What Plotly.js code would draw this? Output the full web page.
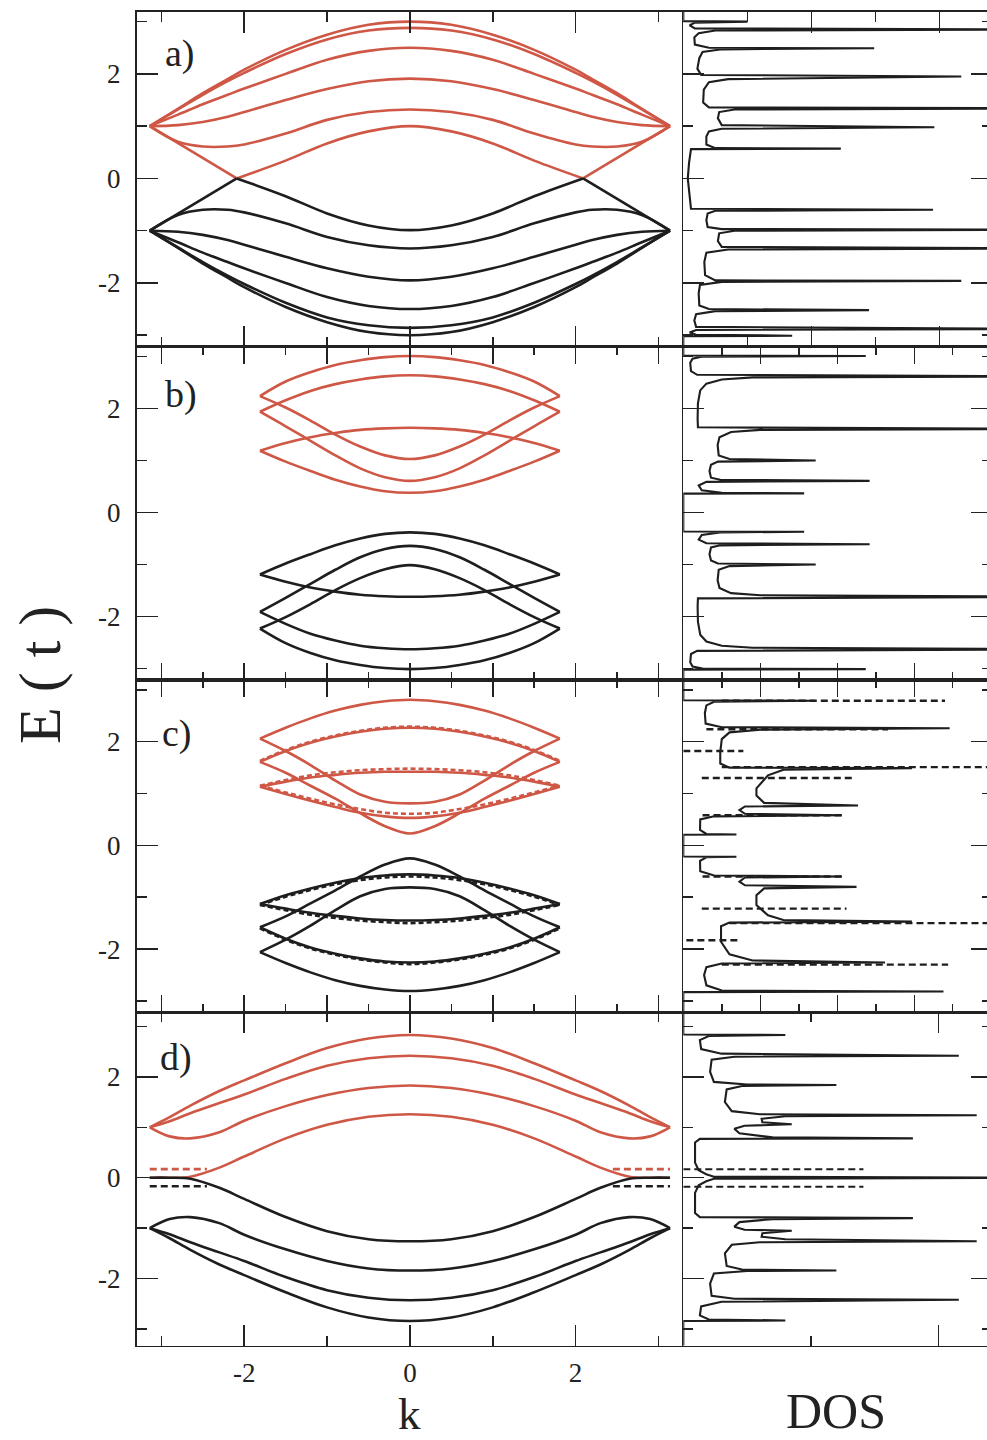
<!DOCTYPE html>
<html>
<head>
<meta charset="utf-8">
<script src="https://cdn.plot.ly/plotly-3.0.1.min.js"></script>
<style>
html, body { margin: 0; padding: 0; overflow: hidden; background: #fff; }
#chart { width: 995px; height: 1440px; }
</style>
</head>
<body>
<div id="chart"></div>
<script>
// ---------------- DATA ----------------
const TICK_VALS = [-2, 0, 2];
const TICK_TEXT = ['-2', '0', '2'];
const PANEL_LABELS = ['a)', 'b)', 'c)', 'd)'];
const Y_TITLE = 'E ( t )';
const X_TITLE_BANDS = 'k';
const X_TITLE_DOS = 'DOS';

// panel a : bands E(k)
const K_A = [-3.14, -2.8, -2.5, -2.2, -2.0, -1.5, -1.0, -0.5, 0, 0.5, 1.0, 1.5, 2.0, 2.2, 2.5, 2.8, 3.14];
const A_R1 = [1.0, 1.33, 1.63, 1.9, 2.08, 2.46, 2.75, 2.94, 3.0, 2.94, 2.75, 2.46, 2.08, 1.9, 1.63, 1.33, 1.0];
const A_R2 = [1.0, 1.32, 1.6, 1.86, 2.02, 2.38, 2.66, 2.83, 2.88, 2.83, 2.66, 2.38, 2.02, 1.86, 1.6, 1.32, 1.0];
const A_R3 = [1.0, 1.22, 1.42, 1.6, 1.72, 2.0, 2.27, 2.44, 2.5, 2.44, 2.27, 2.0, 1.72, 1.6, 1.42, 1.22, 1.0];
const A_R4 = [1.0, 1.02, 1.08, 1.18, 1.27, 1.5, 1.71, 1.86, 1.91, 1.86, 1.71, 1.5, 1.27, 1.18, 1.08, 1.02, 1.0];
const A_R5 = [1.0, 0.7, 0.61, 0.61, 0.65, 0.86, 1.12, 1.27, 1.32, 1.27, 1.12, 0.86, 0.65, 0.61, 0.61, 0.7, 1.0];
const A_B1 = [-1.0, -1.33, -1.63, -1.9, -2.08, -2.46, -2.75, -2.94, -3.0, -2.94, -2.75, -2.46, -2.08, -1.9, -1.63, -1.33, -1.0];
const A_B2 = [-1.0, -1.32, -1.6, -1.86, -2.02, -2.38, -2.66, -2.81, -2.86, -2.81, -2.66, -2.38, -2.02, -1.86, -1.6, -1.32, -1.0];
const A_B3 = [-1.0, -1.22, -1.42, -1.6, -1.72, -2.0, -2.27, -2.44, -2.5, -2.44, -2.27, -2.0, -1.72, -1.6, -1.42, -1.22, -1.0];
const A_B4 = [-1.0, -1.02, -1.08, -1.18, -1.27, -1.5, -1.72, -1.88, -1.95, -1.88, -1.72, -1.5, -1.27, -1.18, -1.08, -1.02, -1.0];
const A_B5 = [-1.0, -0.7, -0.6, -0.6, -0.65, -0.86, -1.12, -1.28, -1.34, -1.28, -1.12, -0.86, -0.65, -0.6, -0.6, -0.7, -1.0];
const K_A6 = [-3.14, -2.09, -1.5, -1.0, -0.5, 0, 0.5, 1.0, 1.5, 2.09, 3.14];
const A_R6 = [1.0, 0.0, 0.34, 0.67, 0.9, 1.0, 0.9, 0.67, 0.34, 0.0, 1.0];
const A_B6 = [-1.0, 0.0, -0.34, -0.67, -0.9, -0.99, -0.9, -0.67, -0.34, 0.0, -1.0];

// panels b and c : bands E(k)
const K_BC = [-1.81, -1.5, -1.2, -0.9, -0.6, -0.3, 0, 0.3, 0.6, 0.9, 1.2, 1.5, 1.81];
const B_R1 = [2.24, 2.52, 2.7, 2.84, 2.93, 2.99, 3.01, 2.99, 2.93, 2.84, 2.7, 2.52, 2.24];
const B_R2 = [1.94, 2.16, 2.34, 2.47, 2.56, 2.62, 2.64, 2.62, 2.56, 2.47, 2.34, 2.16, 1.94];
const B_R3 = [1.19, 1.34, 1.45, 1.53, 1.59, 1.62, 1.63, 1.62, 1.59, 1.53, 1.45, 1.34, 1.19];
const B_R4 = [2.24, 2.02, 1.77, 1.5, 1.27, 1.1, 1.03, 1.1, 1.27, 1.5, 1.77, 2.02, 2.24];
const B_R5 = [1.94, 1.66, 1.38, 1.1, 0.85, 0.68, 0.61, 0.68, 0.85, 1.1, 1.38, 1.66, 1.94];
const B_R6 = [1.19, 0.98, 0.8, 0.63, 0.5, 0.41, 0.38, 0.41, 0.5, 0.63, 0.8, 0.98, 1.19];
const B_B1 = [-2.23, -2.51, -2.7, -2.84, -2.93, -2.99, -3.01, -2.99, -2.93, -2.84, -2.7, -2.51, -2.23];
const B_B2 = [-1.91, -2.14, -2.33, -2.46, -2.56, -2.61, -2.63, -2.61, -2.56, -2.46, -2.33, -2.14, -1.91];
const B_B3 = [-1.19, -1.33, -1.44, -1.52, -1.58, -1.61, -1.62, -1.61, -1.58, -1.52, -1.44, -1.33, -1.19];
const B_B4 = [-2.23, -2.01, -1.76, -1.49, -1.26, -1.09, -1.01, -1.09, -1.26, -1.49, -1.76, -2.01, -2.23];
const B_B5 = [-1.91, -1.64, -1.37, -1.1, -0.86, -0.7, -0.64, -0.7, -0.86, -1.1, -1.37, -1.64, -1.91];
const B_B6 = [-1.19, -0.98, -0.8, -0.63, -0.5, -0.41, -0.38, -0.41, -0.5, -0.63, -0.8, -0.98, -1.19];

const C_R1 = [2.06, 2.27, 2.45, 2.6, 2.71, 2.78, 2.81, 2.78, 2.71, 2.6, 2.45, 2.27, 2.06];
const C_R2 = [1.61, 1.82, 1.98, 2.1, 2.19, 2.25, 2.27, 2.25, 2.19, 2.1, 1.98, 1.82, 1.61];
const C_R3 = [1.13, 1.23, 1.31, 1.36, 1.4, 1.42, 1.42, 1.42, 1.4, 1.36, 1.31, 1.23, 1.13];
const C_R4 = [2.06, 1.82, 1.55, 1.25, 0.98, 0.84, 0.81, 0.84, 0.98, 1.25, 1.55, 1.82, 2.06];
const C_R5 = [1.61, 1.4, 1.15, 0.9, 0.62, 0.37, 0.23, 0.37, 0.62, 0.9, 1.15, 1.4, 1.61];
const C_R6 = [1.13, 0.99, 0.86, 0.74, 0.63, 0.56, 0.53, 0.56, 0.63, 0.74, 0.86, 0.99, 1.13];
const C_RD2 = [1.63, 1.84, 2.0, 2.12, 2.21, 2.27, 2.29, 2.27, 2.21, 2.12, 2.0, 1.84, 1.63];
const C_RD3 = [1.15, 1.26, 1.35, 1.41, 1.45, 1.47, 1.48, 1.47, 1.45, 1.41, 1.35, 1.26, 1.15];
const C_RD6 = [1.15, 1.02, 0.9, 0.79, 0.7, 0.63, 0.61, 0.63, 0.7, 0.79, 0.9, 1.02, 1.15];
const C_B1 = [-2.06, -2.27, -2.45, -2.6, -2.71, -2.78, -2.81, -2.78, -2.71, -2.6, -2.45, -2.27, -2.06];
const C_B2 = [-1.58, -1.8, -1.97, -2.09, -2.18, -2.24, -2.26, -2.24, -2.18, -2.09, -1.97, -1.8, -1.58];
const C_B3 = [-1.13, -1.22, -1.3, -1.36, -1.41, -1.44, -1.45, -1.44, -1.41, -1.36, -1.3, -1.22, -1.13];
const C_B4 = [-2.06, -1.82, -1.55, -1.25, -0.98, -0.84, -0.81, -0.84, -0.98, -1.25, -1.55, -1.82, -2.06];
const C_B5 = [-1.58, -1.37, -1.12, -0.87, -0.6, -0.37, -0.25, -0.37, -0.6, -0.87, -1.12, -1.37, -1.58];
const C_B6 = [-1.13, -0.96, -0.83, -0.72, -0.63, -0.58, -0.56, -0.58, -0.63, -0.72, -0.83, -0.96, -1.13];
const C_BD2 = [-1.6, -1.82, -1.99, -2.11, -2.2, -2.26, -2.29, -2.26, -2.2, -2.11, -1.99, -1.82, -1.6];
const C_BD3 = [-1.15, -1.25, -1.34, -1.4, -1.45, -1.48, -1.5, -1.48, -1.45, -1.4, -1.34, -1.25, -1.15];
const C_BD6 = [-1.15, -0.99, -0.86, -0.75, -0.67, -0.62, -0.6, -0.62, -0.67, -0.75, -0.86, -0.99, -1.15];

// panel d : bands E(k)
const K_D = [-3.14, -2.9, -2.65, -2.3, -2.0, -1.5, -1.0, -0.5, 0, 0.5, 1.0, 1.5, 2.0, 2.3, 2.65, 2.9, 3.14];
const D_R1 = [1.0, 1.2, 1.43, 1.72, 1.93, 2.27, 2.57, 2.76, 2.83, 2.76, 2.57, 2.27, 1.93, 1.72, 1.43, 1.2, 1.0];
const D_R2 = [1.0, 1.12, 1.28, 1.48, 1.65, 1.96, 2.22, 2.37, 2.42, 2.37, 2.22, 1.96, 1.65, 1.48, 1.28, 1.12, 1.0];
const D_R3 = [1.0, 0.82, 0.78, 0.9, 1.13, 1.42, 1.64, 1.78, 1.83, 1.78, 1.64, 1.42, 1.13, 0.9, 0.78, 0.82, 1.0];
const D_R4 = [0.0, 0.0, 0.02, 0.2, 0.42, 0.78, 1.05, 1.21, 1.26, 1.21, 1.05, 0.78, 0.42, 0.2, 0.02, 0.0, 0.0];
const D_B1 = [-1.0, -1.2, -1.43, -1.72, -1.93, -2.27, -2.57, -2.77, -2.84, -2.77, -2.57, -2.27, -1.93, -1.72, -1.43, -1.2, -1.0];
const D_B2 = [-1.0, -1.12, -1.28, -1.48, -1.65, -1.97, -2.23, -2.38, -2.43, -2.38, -2.23, -1.97, -1.65, -1.48, -1.28, -1.12, -1.0];
const D_B3 = [-1.0, -0.82, -0.78, -0.9, -1.13, -1.42, -1.65, -1.8, -1.84, -1.8, -1.65, -1.42, -1.13, -0.9, -0.78, -0.82, -1.0];
const D_B4 = [0.0, 0.0, -0.02, -0.2, -0.42, -0.78, -1.06, -1.22, -1.26, -1.22, -1.06, -0.78, -0.42, -0.2, -0.02, 0.0, 0.0];
const K_DD = [-3.14, -2.45, null, 2.45, 3.14];
const D_RD = [0.17, 0.17, null, 0.17, 0.17];
const D_BD = [-0.17, -0.17, null, -0.17, -0.17];

// DOS curves (energy, density) from top to bottom
const DOS_A_E = [3.19, 3.01, 3.0, 2.98, 2.93, 2.87, 2.85, 2.83, 2.78, 2.7, 2.56, 2.5, 2.49, 2.47, 2.42, 2.3, 2.1, 1.98, 1.95,
  1.9, 1.84, 1.7, 1.45, 1.36, 1.34, 1.32, 1.27, 1.15, 1.02, 0.98, 0.95, 0.9, 0.8, 0.65, 0.58, 0.57,
  0.56, 0.3, 0.0, -0.3, -0.58, -0.6, -0.62, -0.67, -0.8, -0.93, -0.97, -0.98, -1.0, -1.05, -1.2, -1.31, -1.34,
  -1.36, -1.42, -1.6, -1.85, -1.95, -1.96, -1.98, -2.04, -2.2, -2.43, -2.5, -2.52, -2.54, -2.6, -2.72, -2.84, -2.88,
  -2.9, -2.95, -2.99, -3.01, -3.02, -3.22];
const DOS_A_N = [0, 0, 0.5, 0.09, 0.05, 0.09, 3, 0.25, 0.12, 0.086, 0.09, 0.2, 1.49, 0.3, 0.15, 0.125, 0.11, 0.14, 2.17,
  0.35, 0.2, 0.16, 0.155, 0.2, 3, 0.4, 0.28, 0.27, 0.3, 1.96, 0.3, 0.2, 0.18, 0.18, 0.25, 1.23,
  0.06, 0.045, 0.035, 0.045, 0.06, 1.95, 0.25, 0.19, 0.18, 0.19, 0.3, 3, 0.4, 0.28, 0.27, 0.3, 3,
  0.35, 0.18, 0.164, 0.17, 0.25, 2.17, 0.3, 0.13, 0.12, 0.125, 0.2, 1.45, 0.25, 0.1, 0.086, 0.1, 3,
  0.1, 0.05, 0.1, 0.85, 0, 0];

const DOS_B_E = [3.2, 3.02, 3.01, 3.0, 2.96, 2.88, 2.72, 2.65, 2.62, 2.6, 2.56, 2.48, 2.35, 2.1, 1.8, 1.64, 1.61,
  1.59, 1.55, 1.45, 1.3, 1.1, 1.03, 1.0, 0.98, 0.92, 0.8, 0.67, 0.63, 0.61,
  0.59, 0.52, 0.43, 0.38, 0.37, 0.365, -0.365, -0.37, -0.38, -0.43, -0.52, -0.59, -0.61,
  -0.63, -0.67, -0.8, -0.92, -0.98, -1.0, -1.03, -1.1, -1.3, -1.45, -1.55, -1.59, -1.62,
  -1.65, -1.8, -2.1, -2.35, -2.48, -2.56, -2.6, -2.63, -2.66, -2.72, -2.88, -2.96, -3.0, -3.01, -3.02, -3.22];
const DOS_B_N = [0, 0, 2.37, 0.25, 0.12, 0.09, 0.1, 0.18, 5, 0.9, 0.5, 0.3, 0.22, 0.19, 0.186, 0.19, 5,
  1.0, 0.62, 0.47, 0.446, 0.46, 0.6, 1.72, 0.45, 0.36, 0.34, 0.36, 0.48, 2.42,
  0.3, 0.2, 0.24, 0.5, 1.57, 0, 0, 1.57, 0.5, 0.24, 0.2, 0.3, 2.42,
  0.48, 0.36, 0.34, 0.36, 0.45, 1.72, 0.6, 0.46, 0.446, 0.47, 0.62, 1.0, 5,
  0.19, 0.186, 0.19, 0.22, 0.3, 0.5, 0.9, 5, 0.18, 0.1, 0.09, 0.12, 0.25, 2.37, 0, 0];

const DOS_C_E = [3.19, 2.8, 2.79, 2.77, 2.7, 2.55, 2.35, 2.28, 2.26, 2.23, 2.18, 2.05, 1.8, 1.58, 1.5, 1.49,
  1.46, 1.35, 1.1, 0.96, 0.82, 0.77, 0.75, 0.68, 0.61, 0.58,
  0.56, 0.5, 0.3, 0.22, 0.21, 0.205, -0.215, -0.22, -0.23, -0.3, -0.5, -0.58, -0.6,
  -0.62, -0.7, -0.77, -0.8, -0.83, -0.96, -1.15, -1.35, -1.44, -1.47,
  -1.49, -1.56, -1.86, -2.1, -2.22, -2.26, -2.28, -2.35, -2.5, -2.7, -2.8, -2.82, -2.83, -3.22];
const DOS_C_N = [0, 0, 1.71, 0.4, 0.3, 0.28, 0.29, 0.5, 3.46, 1.0, 0.6, 0.5, 0.48, 0.48, 0.6, 2.97,
  1.3, 1.1, 0.95, 0.95, 1.05, 2.27, 0.8, 0.73, 0.8, 2.06,
  0.4, 0.22, 0.217, 0.3, 0.69, 0, 0, 0.69, 0.3, 0.217, 0.22, 0.4, 2.06,
  0.8, 0.73, 0.8, 2.25, 1.05, 0.95, 0.95, 1.1, 1.3, 2.97,
  0.6, 0.49, 0.49, 0.6, 0.9, 2.62, 0.5, 0.3, 0.27, 0.3, 0.5, 3.38, 0, 0];
const DOSD_C_E = [2.79, 2.79, null, 2.24, 2.24, null, 1.82, 1.82, null, 1.51, 1.51, null, 1.3, 1.3, null,
  0.58, 0.58, null, -0.6, -0.6, null, -1.22, -1.22, null, -1.5, -1.5, null, -1.83, -1.83, null, -2.3, -2.3];
const DOSD_C_N = [0.5, 3.4, null, 0.3, 2.66, null, 0, 0.78, null, 0.5, 5, null, 0.24, 2.2, null,
  0.25, 2.06, null, 0.25, 2.06, null, 0.24, 2.12, null, 0.6, 5, null, 0.04, 0.75, null, 0.5, 3.44];

const DOS_D_E = [3.28, 2.84, 2.83, 2.81, 2.73, 2.55, 2.46, 2.42, 2.4, 2.34, 2.1, 1.9, 1.85, 1.84,
  1.82, 1.75, 1.5, 1.32, 1.26, 1.24, 1.22, 1.17, 1.1, 1.06, 1.03, 0.97, 0.88, 0.8, 0.78,
  0.77, 0.7, 0.3, 0.15, 0.07, 0.02, 0.0, -0.02, -0.07, -0.15, -0.3, -0.7, -0.78, -0.8,
  -0.82, -0.88, -0.97, -1.03, -1.05, -1.1, -1.17, -1.22, -1.26, -1.28, -1.33, -1.5, -1.75, -1.82, -1.84,
  -1.85, -1.9, -2.1, -2.34, -2.4, -2.42, -2.46, -2.55, -2.73, -2.81, -2.83, -2.84, -3.33];
const DOS_D_N = [0, 0, 0.4, 0.1, 0.065, 0.07, 0.15, 1.08, 0.2, 0.111, 0.105, 0.12, 0.25, 0.6,
  0.23, 0.17, 0.163, 0.19, 0.3, 1.15, 0.4, 0.307, 0.31, 0.425, 0.24, 0.2, 0.22, 0.35, 0.9,
  0.065, 0.046, 0.046, 0.06, 0.09, 0.12, 1.5, 0.12, 0.09, 0.06, 0.046, 0.046, 0.065, 0.9,
  0.35, 0.22, 0.2, 0.24, 0.425, 0.31, 0.307, 0.4, 1.15, 0.3, 0.19, 0.163, 0.17, 0.23, 0.6,
  0.25, 0.12, 0.105, 0.111, 0.2, 1.08, 0.15, 0.07, 0.065, 0.1, 0.4, 0, 0];
const DOSD_D_E = [0.17, 0.17, null, -0.18, -0.18];
const DOSD_D_N = [0, 0.706, null, 0, 0.706];

// ---------------- STYLE / LAYOUT ----------------
const W = 995, H = 1440;
const RED = '#cf5746', BLK = '#1e1e1e';
const SERIF = 'Liberation Serif, Times New Roman, serif';
const px = v => v / W, py = v => 1 - v / H;
const XL = [px(136.5), px(683.3)], XR = [px(683.3), px(992)];
const ROWS = [[346.7, 11.7], [680, 346.7], [1012.3, 680], [1345.7, 1012.3]].map(r => [py(r[0]), py(r[1])]);
const YR = [[-3.22, 3.19], [-3.22, 3.19], [-3.22, 3.19], [-3.33, 3.28]];
const DOSR = [[0, 2.41], [0, 4.01], [0, 4.01], [0, 1.21]];

const traces = [];
function band(x, y, xa, ya, color, dash, shape) {
  traces.push({type: 'scatter', mode: 'lines', x: x, y: y, xaxis: xa, yaxis: ya, hoverinfo: 'skip',
    line: {color: color, width: 2.6, dash: dash || 'solid', shape: shape || 'spline', smoothing: 1}});
}
function dos(x, y, xa, ya, dash, w) {
  traces.push({type: 'scatter', mode: 'lines', x: x, y: y, xaxis: xa, yaxis: ya, hoverinfo: 'skip',
    line: {color: BLK, width: w || 2.1, dash: dash || 'solid', shape: 'linear'}});
}
// panel a
[A_R1, A_R2, A_R3, A_R4, A_R5].forEach(a => band(K_A, a, 'x', 'y', RED));
band(K_A6.slice(0, 2), A_R6.slice(0, 2), 'x', 'y', RED, 'solid', 'linear');
band(K_A6.slice(1, 10), A_R6.slice(1, 10), 'x', 'y', RED);
band(K_A6.slice(9), A_R6.slice(9), 'x', 'y', RED, 'solid', 'linear');
[A_B1, A_B2, A_B3, A_B4, A_B5].forEach(a => band(K_A, a, 'x', 'y', BLK));
band(K_A6.slice(0, 2), A_B6.slice(0, 2), 'x', 'y', BLK, 'solid', 'linear');
band(K_A6.slice(1, 10), A_B6.slice(1, 10), 'x', 'y', BLK);
band(K_A6.slice(9), A_B6.slice(9), 'x', 'y', BLK, 'solid', 'linear');
dos(DOS_A_N, DOS_A_E, 'x2', 'y2');
// panel b
[B_R1, B_R2, B_R3, B_R4, B_R5, B_R6].forEach(a => band(K_BC, a, 'x3', 'y3', RED));
[B_B1, B_B2, B_B3, B_B4, B_B5, B_B6].forEach(a => band(K_BC, a, 'x3', 'y3', BLK));
dos(DOS_B_N, DOS_B_E, 'x4', 'y4');
// panel c
[C_R1, C_R2, C_R3, C_R4, C_R5, C_R6].forEach(a => band(K_BC, a, 'x5', 'y5', RED));
[C_RD2, C_RD3, C_RD6].forEach(a => band(K_BC, a, 'x5', 'y5', RED, '5px,3px'));
[C_B1, C_B2, C_B3, C_B4, C_B5, C_B6].forEach(a => band(K_BC, a, 'x5', 'y5', BLK));
[C_BD2, C_BD3, C_BD6].forEach(a => band(K_BC, a, 'x5', 'y5', BLK, '5px,3px'));
dos(DOS_C_N, DOS_C_E, 'x6', 'y6');
dos(DOSD_C_N, DOSD_C_E, 'x6', 'y6', '7px,4px', 2.4);
// panel d
[D_R1, D_R2, D_R3, D_R4].forEach(a => band(K_D, a, 'x7', 'y7', RED));
[D_B1, D_B2, D_B3, D_B4].forEach(a => band(K_D, a, 'x7', 'y7', BLK));
band(K_DD, D_RD, 'x7', 'y7', RED, '7px,4px', 'linear');
band(K_DD, D_BD, 'x7', 'y7', BLK, '7px,4px', 'linear');
dos(DOS_D_N, DOS_D_E, 'x8', 'y8');
dos(DOSD_D_N, DOSD_D_E, 'x8', 'y8', '7px,4px', 2);

const tickfont = {family: SERIF, size: 27, color: '#222'};
function base(extra) {
  return Object.assign({
    showline: true, linecolor: '#222', linewidth: 1.6, ticks: 'inside', ticklen: 21, tickwidth: 1.5,
    tickcolor: '#222', showgrid: false, zeroline: false, fixedrange: true, tickfont: tickfont
  }, extra);
}
function minor(vals, len) {
  return {ticks: 'inside', ticklen: len || 10, tickwidth: 1.5, tickcolor: '#222', tickmode: 'array', tickvals: vals, showgrid: false};
}
const layout = {
  width: W, height: H, margin: {l: 0, r: 0, t: 0, b: 0, autoexpand: false},
  paper_bgcolor: '#fff', plot_bgcolor: '#fff', showlegend: false,
  font: {family: SERIF, color: '#222'},
  annotations: []
};
const leftMajor = [[-2, 0, 2], [-3, -2, -1, 0, 1, 2, 3], [-3, -2, -1, 0, 1, 2, 3], [-2, 0, 2]];
const leftMinor = [[-3, -1, 1, 3], [-2.5, -1.5, -0.5, 0.5, 1.5, 2.5], [-2.5, -1.5, -0.5, 0.5, 1.5, 2.5], [-3, -1, 1, 3]];
for (let r = 0; r < 4; r++) {
  const iL = 2 * r + 1, iR = 2 * r + 2;
  const nL = iL === 1 ? '' : String(iL), nR = String(iR);
  const isLast = r === 3;
  layout['xaxis' + nL] = base({
    domain: XL, anchor: 'y' + nL, range: [-3.3, 3.3], mirror: 'ticks',
    tickmode: 'array', tickvals: isLast ? TICK_VALS : leftMajor[r], ticktext: isLast ? TICK_TEXT : undefined,
    ticklen: (r === 1 || r === 2) ? 17 : 21,
    showticklabels: isLast, ticklabelstandoff: 2, minor: minor(leftMinor[r], (r === 1 || r === 2) ? 8 : 10)
  });
  layout['yaxis' + nL] = base({
    domain: ROWS[r], anchor: 'x' + nL, range: YR[r], mirror: false,
    tickmode: 'array', tickvals: TICK_VALS, ticktext: TICK_TEXT, showticklabels: true,
    ticklabelstandoff: 9, minor: minor([-3, -1, 1, 3])
  });
  layout['xaxis' + nR] = base({
    domain: XR, anchor: 'y' + nR, range: DOSR[r], mirror: 'ticks',
    tickmode: 'linear', tick0: 0, dtick: 1, showticklabels: false,
    ticklen: (r === 1 || r === 2) ? 17 : 21,
    minor: {ticks: 'inside', ticklen: (r === 1 || r === 2) ? 8 : 10, tickwidth: 1.5, tickcolor: '#222', tick0: 0, dtick: 0.5, showgrid: false}
  });
  layout['yaxis' + nR] = base({
    domain: ROWS[r], anchor: 'x' + nR, range: YR[r], mirror: 'ticks',
    tickmode: 'array', tickvals: TICK_VALS, showticklabels: false, minor: minor([-3, -1, 1, 3])
  });
}
const labelPos = [[163, 54], [163, 394], [160, 733], [158, 1057]];
PANEL_LABELS.forEach((t, i) => layout.annotations.push({
  text: t, xref: 'paper', yref: 'paper', x: px(labelPos[i][0]), y: py(labelPos[i][1]),
  xanchor: 'left', yanchor: 'middle', showarrow: false, font: {family: SERIF, size: 38, color: '#222'}
}));
layout.annotations.push({text: Y_TITLE, xref: 'paper', yref: 'paper', x: px(40), y: py(675), textangle: -90,
  xanchor: 'center', yanchor: 'middle', showarrow: false, font: {family: SERIF, size: 60, color: '#222'}});
layout.annotations.push({text: X_TITLE_BANDS, xref: 'paper', yref: 'paper', x: px(409), y: 0,
  xanchor: 'center', yanchor: 'bottom', showarrow: false, borderpad: 0,
  font: {family: SERIF, size: 45, color: '#222'}});
layout.annotations.push({text: X_TITLE_DOS, xref: 'paper', yref: 'paper', x: px(836), y: 0,
  xanchor: 'center', yanchor: 'bottom', showarrow: false, borderpad: 0,
  font: {family: SERIF, size: 50, color: '#222'}});

Plotly.newPlot('chart', traces, layout, {displayModeBar: false, staticPlot: true});
</script>
</body>
</html>
